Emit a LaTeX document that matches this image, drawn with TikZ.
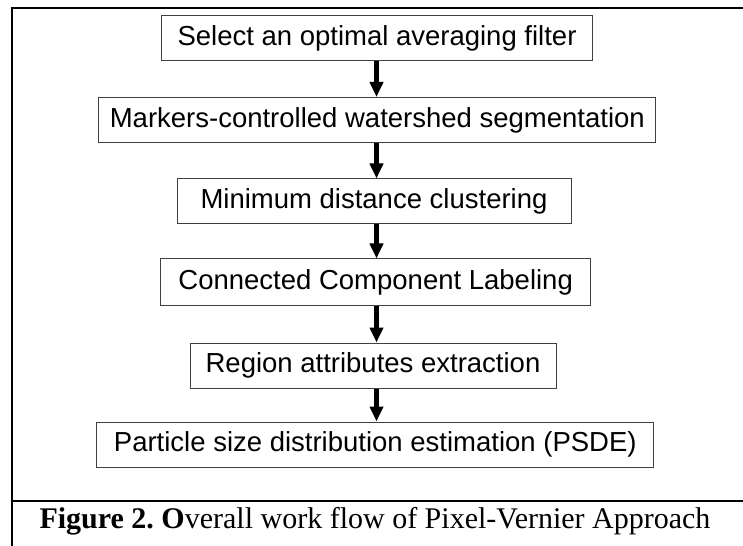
\documentclass[tikz,border=0pt]{standalone}
\usepackage{fontspec}
\setmainfont{Liberation Serif}
\newfontfamily\arialfont{Liberation Sans}
\usetikzlibrary{arrows.meta}
\tikzset{
  stepbox/.style={draw=black!75, line width=1bp, inner sep=0pt, anchor=center,
    font=\arialfont\fontsize{27.5bp}{32bp}\selectfont, minimum height=45bp},
  flowarrow/.style={line width=4.5bp, -{Triangle[width=13bp,length=15bp]}},
  frameline/.style={line width=2bp, black}
}
\begin{document}
\begin{tikzpicture}[x=1bp,y=-1bp]
\useasboundingbox (0,0) rectangle (743,546);
% outer frame
\coordinate (tl) at (12,8.5);
\coordinate (tr) at (743,8.5);
\coordinate (bl) at (12,546);
\coordinate (dl) at (12,500.5);
\coordinate (dr) at (743,500.5);
\draw[frameline] (tr) -- (tl) -- (bl);
\draw[frameline] (dl) -- (dr);
% boxes
\node[stepbox, minimum width=430bp] (b1) at (377,38.5) {Select an optimal averaging filter};
\node[stepbox, minimum width=557bp] (b2) at (377.3,120) {Markers-controlled watershed segmentation};
\node[stepbox, minimum width=394bp] (b3) at (374,201.5) {Minimum distance clustering};
\node[stepbox, minimum width=430bp, minimum height=46bp] (b4) at (375.7,282) {Connected Component Labeling};
\node[stepbox, minimum width=366bp] (b5) at (373,365.5) {Region attributes extraction};
\node[stepbox, minimum width=557bp] (b6) at (375.3,444.5) {Particle size distribution estimation (PSDE)};
% arrows
\coordinate (ax) at (376.5,0);
\draw[flowarrow] (b1.south -| ax) -- (b2.north -| ax);
\draw[flowarrow] (b2.south -| ax) -- (b3.north -| ax);
\draw[flowarrow] (b3.south -| ax) -- (b4.north -| ax);
\draw[flowarrow] (b4.south -| ax) -- (b5.north -| ax);
\draw[flowarrow] (b5.south -| ax) -- (b6.north -| ax);
% caption
\node[anchor=base, font=\fontsize{30bp}{34bp}\selectfont, inner sep=0pt] (cap) at (375,528)
  {\frenchspacing\textbf{Figure 2. O}verall work flow of Pixel-Vernier Approach};
\end{tikzpicture}
\end{document}
